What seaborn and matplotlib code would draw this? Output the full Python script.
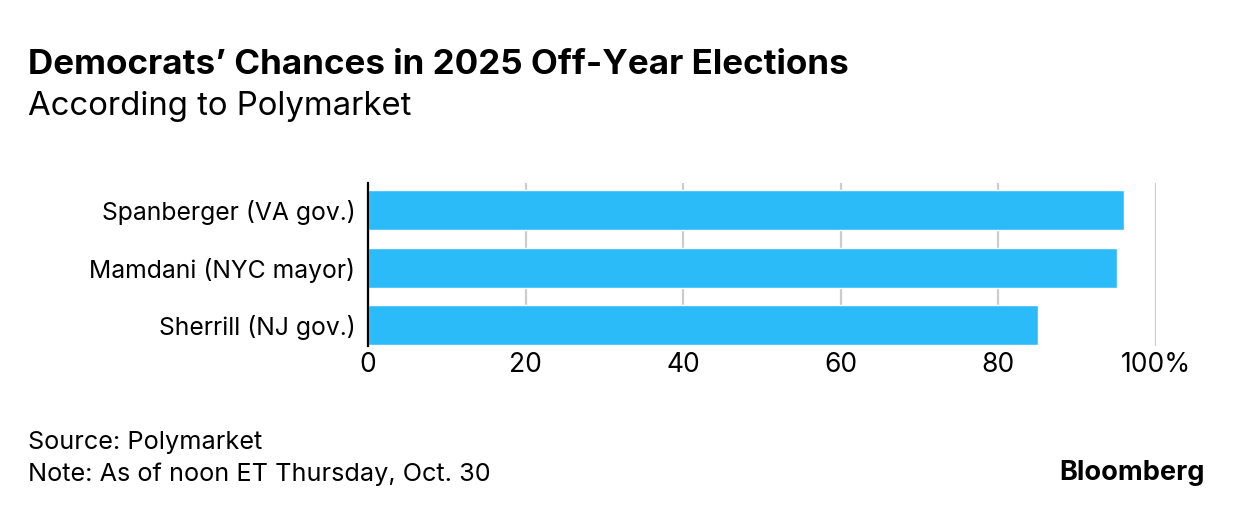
import matplotlib
matplotlib.use("Agg")
import matplotlib.pyplot as plt
import seaborn as sns
import pandas as pd

categories = ["Spanberger (VA gov.)", "Mamdani (NYC mayor)", "Sherrill (NJ gov.)"]
values = [96, 95, 85]
tick_values = [0, 20, 40, 60, 80, 100]
tick_labels = ["0", "20", "40", "60", "80", "100%"]

sns.set_theme(style="white")
plt.rcParams['font.family'] = ['Inter', 'DejaVu Sans']

W, H = 1235, 516
fig = plt.figure(figsize=(W / 100, H / 100), dpi=100)
fig.patch.set_facecolor("white")

ax = fig.add_axes([368 / W, 1 - 346 / H, (1156 - 368) / W, (346 - 183) / H])
df = pd.DataFrame({"cat": categories, "val": values})
sns.barplot(data=df, x="val", y="cat", color="#2BBBF8", width=0.7, ax=ax,
            saturation=1, zorder=3)
ax.set_xlim(0, 100)
ax.set_ylim(2.36, -0.47)
ax.set_xticks(tick_values)
ax.set_xticklabels(tick_labels)
ax.set_xlabel("")
ax.set_ylabel("")
for s in ["top", "right", "bottom"]:
    ax.spines[s].set_visible(False)
ax.spines["left"].set_color("black")
ax.spines["left"].set_linewidth(1.6)
ax.spines["left"].set_zorder(5)
ax.grid(axis="x", color="#cccccc", linewidth=1.6, zorder=0)
ax.grid(axis="y", visible=False)
ax.tick_params(axis="both", length=0, colors="black")
ax.tick_params(axis="x", pad=4, labelsize=19)
ax.tick_params(axis="y", pad=9, labelsize=17.8)

fig.text(28 / W, 1 - 65 / H, "Democrats\u2019 Chances in 2025 Off-Year Elections",
         fontsize=25.2, fontweight="bold", va="center", ha="left", color="black")
fig.text(28 / W, 1 - 106 / H, "According to Polymarket",
         fontsize=23.7, va="center", ha="left", color="black")
fig.text(28 / W, 1 - 443 / H, "Source: Polymarket",
         fontsize=18.2, va="center", ha="left", color="black")
fig.text(28 / W, 1 - 474 / H, "Note: As of noon ET Thursday, Oct. 30",
         fontsize=18.2, va="center", ha="left", color="black")
fig.text(1205 / W, 1 - 473 / H, "Bloomberg",
         fontsize=19.5, fontweight="bold", va="center", ha="right", color="black")

fig.savefig("out.png", dpi=100, facecolor="white")
